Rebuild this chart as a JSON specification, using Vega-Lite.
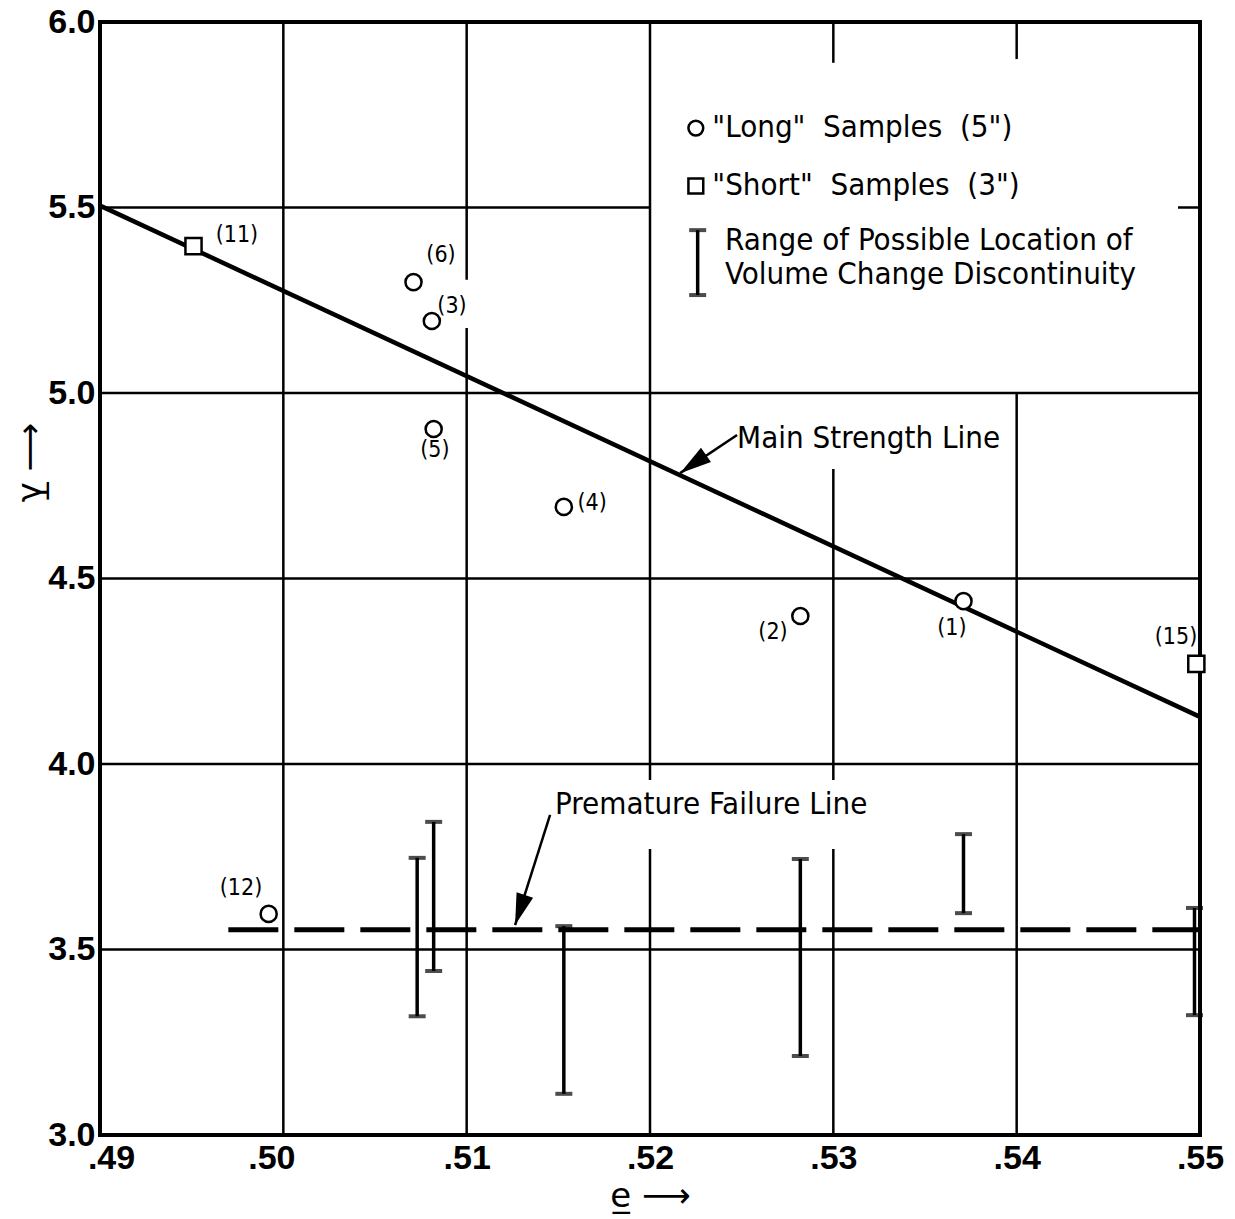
{
 "$schema": "https://vega.github.io/schema/vega-lite/v6.json",
 "width": 1100,
 "height": 1113,
 "autosize": {"type": "none"},
 "padding": {"left": 100, "top": 22, "right": 35, "bottom": 84},
 "background": "white",
 "config": {
  "view": {"stroke": "black", "strokeWidth": 4},
  "axis": {"grid": false, "ticks": false, "domain": false, "labelFlush": false, "labelFont": "Liberation Sans", "labelFontWeight": "bold", "labelFontSize": 34, "labelColor": "black", "titleFont": "DejaVu Sans", "titleFontSize": 34, "titleFontWeight": "normal", "titleColor": "black"},
  "text": {"font": "DejaVu Sans Condensed", "color": "black"}
 },
 "datasets": {
  "grid": [
   {"e": 0.50, "e2": 0.50, "g": 3.0, "g2": 6.0},
   {"e": 0.51, "e2": 0.51, "g": 5.305, "g2": 6.0},
   {"e": 0.51, "e2": 0.51, "g": 3.0, "g2": 5.175},
   {"e": 0.52, "e2": 0.52, "g": 3.957, "g2": 6.0},
   {"e": 0.52, "e2": 0.52, "g": 3.0, "g2": 3.771},
   {"e": 0.53, "e2": 0.53, "g": 5.89, "g2": 6.0},
   {"e": 0.53, "e2": 0.53, "g": 3.957, "g2": 4.795},
   {"e": 0.53, "e2": 0.53, "g": 3.0, "g2": 3.771},
   {"e": 0.54, "e2": 0.54, "g": 5.90, "g2": 6.0},
   {"e": 0.54, "e2": 0.54, "g": 3.0, "g2": 5.0},
   {"e": 0.49, "e2": 0.52, "g": 5.5, "g2": 5.5},
   {"e": 0.5488, "e2": 0.55, "g": 5.5, "g2": 5.5},
   {"e": 0.49, "e2": 0.55, "g": 5.0, "g2": 5.0},
   {"e": 0.49, "e2": 0.55, "g": 4.5, "g2": 4.5},
   {"e": 0.49, "e2": 0.55, "g": 4.0, "g2": 4.0},
   {"e": 0.49, "e2": 0.55, "g": 3.5, "g2": 3.5}
  ],
  "strength": [{"e": 0.49, "g": 5.505}, {"e": 0.55, "g": 4.127}],
  "premature": [{"e": 0.497, "g": 3.553}, {"e": 0.55, "g": 3.553}],
  "ranges": [
   {"e": 0.5073, "g": 3.32, "g2": 3.747},
   {"e": 0.5082, "g": 3.442, "g2": 3.844},
   {"e": 0.5153, "g": 3.111, "g2": 3.563},
   {"e": 0.5282, "g": 3.213, "g2": 3.744},
   {"e": 0.5371, "g": 3.598, "g2": 3.811},
   {"e": 0.5497, "g": 3.323, "g2": 3.612},
   {"e": 0.5226, "g": 5.264, "g2": 5.439}
  ],
  "samples": [
   {"id": "(11)", "type": "short", "e": 0.4951, "g": 5.396},
   {"id": "(6)", "type": "long", "e": 0.5071, "g": 5.299},
   {"id": "(3)", "type": "long", "e": 0.5081, "g": 5.194},
   {"id": "(5)", "type": "long", "e": 0.5082, "g": 4.903},
   {"id": "(4)", "type": "long", "e": 0.5153, "g": 4.693},
   {"id": "(2)", "type": "long", "e": 0.5282, "g": 4.399},
   {"id": "(1)", "type": "long", "e": 0.5371, "g": 4.439},
   {"id": "(15)", "type": "short", "e": 0.5498, "g": 4.27},
   {"id": "(12)", "type": "long", "e": 0.4992, "g": 3.596}
  ],
  "key": [
   {"type": "long", "e": 0.5225, "g": 5.714},
   {"type": "short", "e": 0.5225, "g": 5.558}
  ],
  "labels": [
   {"text": "(11)", "e": 0.49747, "g": 5.426},
   {"text": "(6)", "e": 0.5086, "g": 5.372},
   {"text": "(3)", "e": 0.5092, "g": 5.2345},
   {"text": "(5)", "e": 0.50827, "g": 4.846},
   {"text": "(4)", "e": 0.51684, "g": 4.7035},
   {"text": "(2)", "e": 0.52671, "g": 4.356},
   {"text": "(1)", "e": 0.53647, "g": 4.367},
   {"text": "(15)", "e": 0.54869, "g": 4.342},
   {"text": "(12)", "e": 0.49769, "g": 3.666}
  ],
  "notes": [
   {"text": "Main Strength Line", "e": 0.52475, "g": 4.876},
   {"text": "Premature Failure Line", "e": 0.51482, "g": 3.889},
   {"text": "\"Long\"\u00a0 Samples\u00a0 (5\")", "e": 0.5234, "g": 5.714},
   {"text": "\"Short\"\u00a0 Samples\u00a0 (3\")", "e": 0.5234, "g": 5.558},
   {"text": "Range of Possible Location of", "e": 0.52409, "g": 5.41},
   {"text": "Volume Change Discontinuity", "e": 0.52409, "g": 5.318}
  ],
  "arrows": [
   {"name": "main", "e": 0.52475, "g": 4.887, "e2": 0.52164, "g2": 4.784},
   {"name": "premature", "e": 0.51455, "g": 3.863, "e2": 0.51264, "g2": 3.566}
  ]
 },
 "encoding": {
  "x": {
   "field": "e", "type": "quantitative", "title": "e̲ ⟶",
   "scale": {"domain": [0.49, 0.55], "nice": false, "zero": false},
   "axis": {
    "values": [0.49, 0.5, 0.51, 0.52, 0.53, 0.54, 0.55],
    "labelExpr": "replace(format(datum.value, '.2f'), '0.', '.')",
    "labelPadding": 6,
    "labelOffset": {"condition": [{"test": "datum.value < 0.495", "value": 11}, {"test": "datum.value < 0.505", "value": -12}], "value": 0},
    "titlePadding": 4
   }
  },
  "y": {
   "field": "g", "type": "quantitative", "title": "γ̲ ⟶",
   "scale": {"domain": [3, 6], "nice": false, "zero": false},
   "axis": {
    "values": [3, 3.5, 4, 4.5, 5, 5.5, 6],
    "format": ".1f",
    "labelPadding": 5,
    "titleX": -70,
    "titleY": 440,
    "titleBaseline": "middle",
    "titleAngle": -90
   }
  }
 },
 "layer": [
  {"data": {"name": "grid"}, "mark": {"type": "rule", "color": "black", "strokeWidth": 2.5}, "encoding": {"x2": {"field": "e2"}, "y2": {"field": "g2"}}},
  {"data": {"name": "strength"}, "mark": {"type": "line", "color": "black", "strokeWidth": 4.5}, "encoding": {}},
  {"data": {"name": "premature"}, "mark": {"type": "line", "color": "black", "strokeWidth": 5, "strokeDash": [50, 16], "strokeCap": "butt"}, "encoding": {}},
  {"data": {"name": "ranges"}, "mark": {"type": "rule", "color": "black", "strokeWidth": 3.5}, "encoding": {"y2": {"field": "g2"}}},
  {"data": {"name": "ranges"}, "mark": {"type": "tick", "orient": "horizontal", "color": "black", "size": 17, "thickness": 4}, "encoding": {}},
  {"data": {"name": "ranges"}, "mark": {"type": "tick", "orient": "horizontal", "color": "black", "size": 17, "thickness": 4}, "encoding": {"y": {"field": "g2", "type": "quantitative", "title": "γ̲ ⟶"}}},
  {"data": {"name": "arrows"}, "mark": {"type": "rule", "color": "black", "strokeWidth": 2.5}, "encoding": {"x2": {"field": "e2"}, "y2": {"field": "g2"}}},
  {"data": {"name": "arrows"}, "transform": [{"filter": "datum.name == 'main'"}], "mark": {"type": "point", "filled": true, "color": "black", "opacity": 1, "shape": "M0,0 L-0.55,2 L0.55,2 Z", "size": 1000, "angle": 235}, "encoding": {"x": {"field": "e2", "type": "quantitative", "title": "e̲ ⟶"}, "y": {"field": "g2", "type": "quantitative", "title": "γ̲ ⟶"}}},
  {"data": {"name": "arrows"}, "transform": [{"filter": "datum.name == 'premature'"}], "mark": {"type": "point", "filled": true, "color": "black", "opacity": 1, "shape": "M0,0 L-0.55,2 L0.55,2 Z", "size": 1000, "angle": 198}, "encoding": {"x": {"field": "e2", "type": "quantitative", "title": "e̲ ⟶"}, "y": {"field": "g2", "type": "quantitative", "title": "γ̲ ⟶"}}},
  {"data": {"name": "samples"}, "mark": {"type": "point", "filled": true, "fill": "white", "stroke": "black", "strokeWidth": 2.5, "opacity": 1, "size": 260}, "encoding": {"shape": {"field": "type", "type": "nominal", "scale": {"domain": ["long", "short"], "range": ["circle", "square"]}, "legend": null}}},
  {"data": {"name": "key"}, "mark": {"type": "point", "filled": true, "fill": "white", "stroke": "black", "strokeWidth": 2.5, "opacity": 1, "size": 220}, "encoding": {"shape": {"field": "type", "type": "nominal", "scale": {"domain": ["long", "short"], "range": ["circle", "square"]}, "legend": null}}},
  {"data": {"name": "labels"}, "mark": {"type": "text", "fontSize": 23, "align": "center", "baseline": "middle"}, "encoding": {"text": {"field": "text"}}},
  {"data": {"name": "notes"}, "mark": {"type": "text", "fontSize": 31, "align": "left", "baseline": "middle"}, "encoding": {"text": {"field": "text"}}}
 ]
}
